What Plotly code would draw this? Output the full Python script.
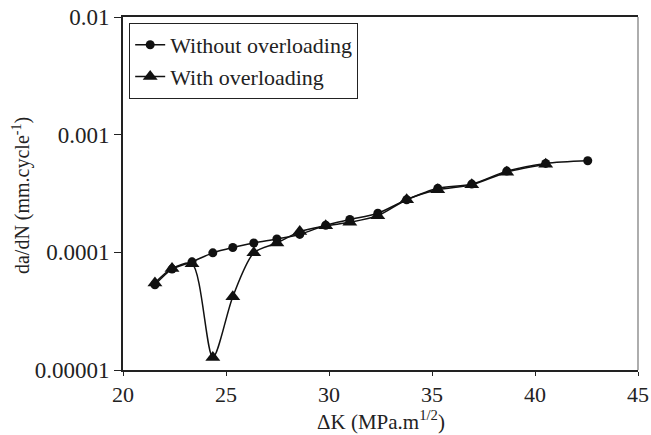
import plotly.graph_objects as go

dk_without = [21.55, 22.38, 23.35, 24.36, 25.33, 26.35, 27.47, 28.58, 29.84, 31.01,
              32.37, 33.77, 35.28, 36.93, 38.63, 40.52, 42.56]
dadn_without = [5.3e-5, 7.2e-5, 8.3e-5, 9.9e-5, 1.1e-4, 1.2e-4, 1.3e-4, 1.42e-4, 1.7e-4,
                1.9e-4, 2.15e-4, 2.8e-4, 3.5e-4, 3.8e-4, 4.9e-4, 5.7e-4, 6.0e-4]

dk_with = [21.55, 22.38, 23.35, 24.36, 25.33, 26.35, 27.47, 28.58, 29.84, 31.01,
           32.37, 33.77, 35.28, 36.93, 38.63, 40.52]
dadn_with = [5.5e-5, 7.3e-5, 8.0e-5, 1.28e-5, 4.2e-5, 9.9e-5, 1.2e-4, 1.5e-4, 1.68e-4,
             1.8e-4, 2.05e-4, 2.8e-4, 3.4e-4, 3.75e-4, 4.8e-4, 5.6e-4]

y_tickvals = [1e-5, 1e-4, 1e-3, 1e-2]
y_ticktext = ["0.00001", "0.0001", "0.001", "0.01"]
x_tickvals = [20, 25, 30, 35, 40, 45]

x_title = "ΔK (MPa.m<sup>1/2</sup>)"
y_title = "da/dN (mm.cycle<sup>-1</sup>)"

FONT = "Liberation Serif, Times New Roman, serif"

fig = go.Figure()
fig.add_trace(go.Scatter(
    x=dk_without, y=dadn_without, name="Without overloading",
    mode="lines+markers",
    line=dict(color="#111111", width=1.5, shape="spline", smoothing=0.8),
    marker=dict(symbol="circle", size=9, color="#111111"),
))
fig.add_trace(go.Scatter(
    x=dk_with, y=dadn_with, name="With overloading",
    mode="lines+markers",
    line=dict(color="#111111", width=1.5, shape="spline", smoothing=0.8),
    marker=dict(symbol="triangle-up", size=13, color="#111111"),
))

fig.update_layout(
    width=651, height=435,
    margin=dict(l=123, r=13, t=17, b=65),
    paper_bgcolor="white", plot_bgcolor="white",
    font=dict(family=FONT, size=21, color="#222222"),
    showlegend=True,
    legend=dict(
        x=0.012, y=0.983, xanchor="left", yanchor="top",
        bordercolor="#222222", borderwidth=1, bgcolor="white",
        font=dict(family=FONT, size=22, color="#222222"),
        itemwidth=30, tracegroupgap=0,
    ),
    xaxis=dict(
        range=[20, 45], tickvals=x_tickvals, ticks="outside", ticklen=4,
        tickwidth=1, tickcolor="#222222", automargin=False,
        showline=True, linecolor="#222222", linewidth=2, mirror=True,
        showgrid=False, zeroline=False,
        tickfont=dict(family=FONT, size=22, color="#222222"),
    ),
    yaxis=dict(
        type="log", range=[-5, -2], tickvals=y_tickvals, ticktext=y_ticktext,
        ticks="outside", ticklen=7, tickwidth=1, tickcolor="#222222", automargin=False,
        showline=True, linecolor="#222222", linewidth=2, mirror=False,
        showgrid=False, zeroline=False,
        tickfont=dict(family=FONT, size=23, color="#222222"),
    ),
    shapes=[dict(type="line", xref="paper", yref="paper", x0=1, x1=1, y0=0, y1=1,
                 line=dict(color="#777777", width=1.2))],
    annotations=[
        dict(text=x_title, xref="paper", yref="paper", x=0.5, y=-0.143,
             xanchor="center", yanchor="middle", showarrow=False,
             font=dict(family=FONT, size=21, color="#222222")),
        dict(text=y_title, xref="paper", yref="paper", x=-0.196, y=0.493,
             xanchor="center", yanchor="middle", showarrow=False, textangle=-90,
             font=dict(family=FONT, size=20, color="#222222")),
    ],
)

fig.write_html("out.html")
